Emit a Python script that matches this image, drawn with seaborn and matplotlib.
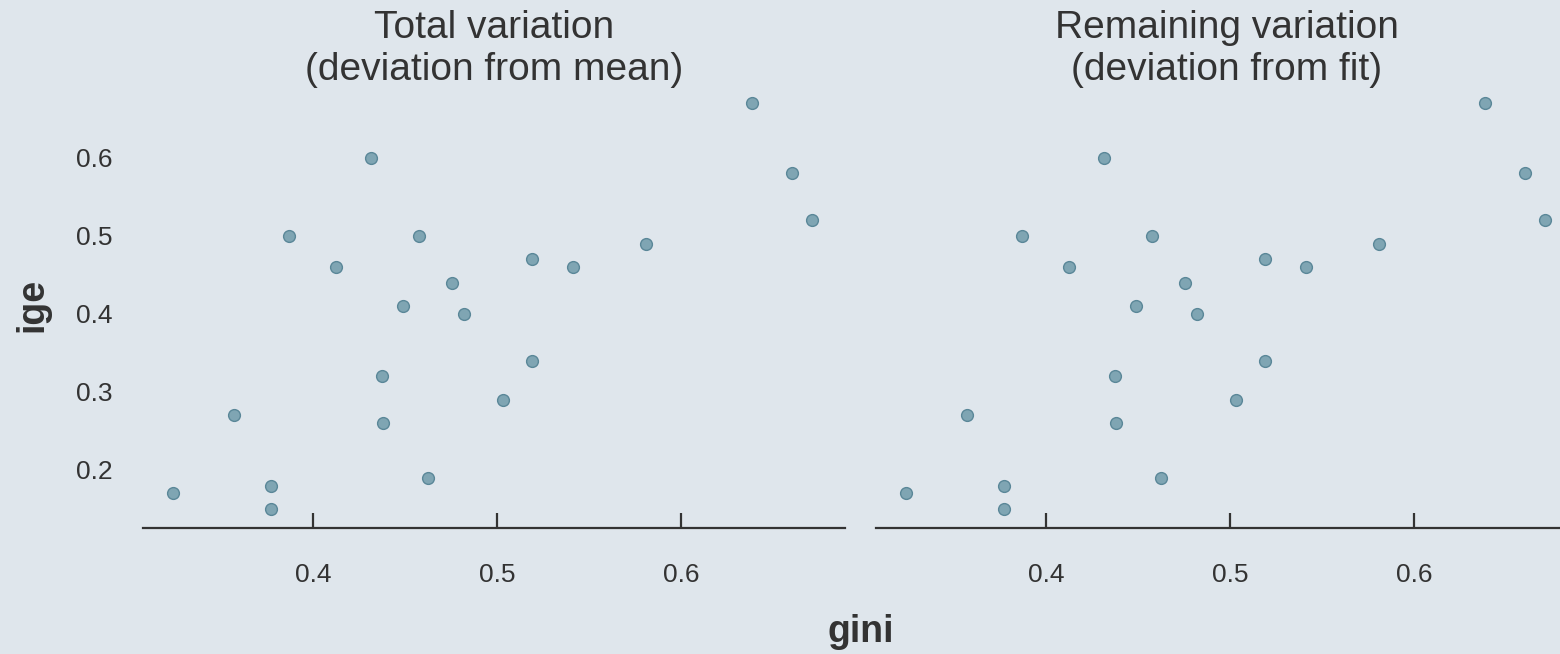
import matplotlib
matplotlib.use("Agg")
import matplotlib.pyplot as plt
import seaborn as sns
import pandas as pd

# Income inequality (gini) vs. intergenerational earnings elasticity (ige)
gini = [0.324, 0.357, 0.377, 0.377, 0.387, 0.4125, 0.4315, 0.4375, 0.438, 0.449,
        0.4576, 0.4625, 0.4755, 0.482, 0.503, 0.519, 0.519, 0.541, 0.581, 0.6386,
        0.660, 0.671]
ige = [0.17, 0.27, 0.18, 0.15, 0.50, 0.46, 0.60, 0.32, 0.26, 0.41,
       0.50, 0.19, 0.44, 0.40, 0.29, 0.47, 0.34, 0.46, 0.49, 0.67,
       0.58, 0.52]
panel_titles = ["Total variation\n(deviation from mean)",
                "Remaining variation\n(deviation from fit)"]
x_ticks = [0.4, 0.5, 0.6]
y_ticks = [0.2, 0.3, 0.4, 0.5, 0.6]

df = pd.DataFrame({"gini": gini, "ige": ige})

BG = "#dfe6ec"
INK = "#333333"
POINT = "#7fa5b3"
EDGE = "#5a8798"

sns.set_theme(style="white")
plt.rcParams["font.family"] = ["Liberation Sans", "DejaVu Sans"]

fig = plt.figure(figsize=(15.6, 6.54), dpi=100, facecolor=BG)
W, H = 1560, 654

xlim = (0.3076, 0.689)
ylim = (0.1256, 0.697)
ax_w = 702 / W
ax_bottom = (H - 528) / H
ax_h = (528 - 82) / H
lefts = [143 / W, 876 / W]

for left, title in zip(lefts, panel_titles):
    ax = fig.add_axes([left, ax_bottom, ax_w, ax_h])
    ax.set_facecolor(BG)
    sns.scatterplot(data=df, x="gini", y="ige", ax=ax, s=72,
                    color=POINT, edgecolor=EDGE, linewidth=1.0, zorder=3)
    ax.set_xlim(*xlim)
    ax.set_ylim(*ylim)
    ax.set_xticks(x_ticks)
    ax.set_xticklabels([f"{v:.1f}" for v in x_ticks])
    ax.set_yticks(y_ticks)
    ax.set_yticklabels([f"{v:.1f}" for v in y_ticks])
    ax.set_xlabel("")
    ax.set_ylabel("")
    for side in ("top", "right", "left"):
        ax.spines[side].set_visible(False)
    ax.spines["bottom"].set_color(INK)
    ax.spines["bottom"].set_linewidth(1.6)
    ax.tick_params(axis="x", bottom=True, direction="in", length=11, width=1.6,
                   color=INK, labelcolor=INK, labelsize=19, pad=25)
    ax.tick_params(axis="y", left=False, length=0, labelcolor=INK,
                   labelsize=19, pad=22)
    if left != lefts[0]:
        ax.tick_params(axis="y", labelleft=False)
    ax.grid(False)
    ax.text(0.5, 1.0 + (82 - 80) / 446, title, transform=ax.transAxes,
            ha="center", va="baseline", fontsize=28, color=INK,
            linespacing=1.22)

fig.text(861 / W, (H - 632) / H, "gini", ha="center", va="center",
         fontsize=27, fontweight="bold", color=INK)
fig.text(32 / W, (H - 305) / H, "ige", ha="center", va="center",
         rotation=90, fontsize=27, fontweight="bold", color=INK)

fig.savefig("out.png", dpi=100, facecolor=BG)
